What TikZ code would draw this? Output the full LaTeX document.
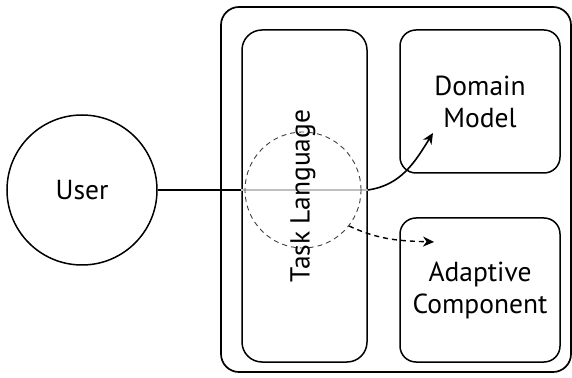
\documentclass[tikz,border=0pt]{standalone}
\usepackage{fontspec}
\setmainfont{PT Sans}
\usetikzlibrary{arrows.meta}
\usetikzlibrary{positioning}

\begin{document}
\begin{tikzpicture}
	[
	x=1pt, y=1pt,
	> = {Stealth[length=11pt,width=10pt]},
	every node/.style={font=\fontsize{27.5}{32}\selectfont},
	box/.style = {draw, line width=1.5pt, rounded corners=16pt, inner sep=0pt},
	actor/.style = {draw, circle, line width=1.5pt, minimum size=150pt, inner sep=0pt},
	probe/.style = {draw=black!75, circle, dashed, dash pattern=on 5pt off 4pt, line width=0.9pt, minimum size=116pt, inner sep=0pt}
	]
	\useasboundingbox (0,0) rectangle (572,377);
	% system boundary
	\draw[line width=1.7pt, rounded corners=18pt] (221,5) rectangle (571,370);

	\node[actor] (user) at (82,187) {User};
	\node[box, minimum width=125pt, minimum height=332pt, rounded corners=20pt] (task) at (304.5,181) {};
	\node[box, minimum width=160pt, minimum height=143pt, align=center] (domain) at (480,275.5) {Domain\\Model};
	\node[box, minimum width=160pt, minimum height=144pt, align=center] (adaptive) at (480,87) {Adaptive\\Component};

	\coordinate (dmtip) at (433,244);
	\coordinate (actip) at (434,135);

	% interaction path
	\draw[line width=1.5pt] (user.east) -- (user -| task.west);
	\draw[line width=1.2pt, black!25] (user -| task.west) -- (user -| task.east);
	\draw[->, line width=1.6pt] (user -| task.east) to[out=8, in=238] (dmtip);

	\node[probe] (lens) at (303,187) {};
	\draw[->, dashed, dash pattern=on 5pt off 4pt, line width=1.4pt] (lens.-38) to[out=-25, in=178] (actip);

	\node[rotate=90] (tasklabel) at (303,181) {Task Language};
\end{tikzpicture}
\end{document}
